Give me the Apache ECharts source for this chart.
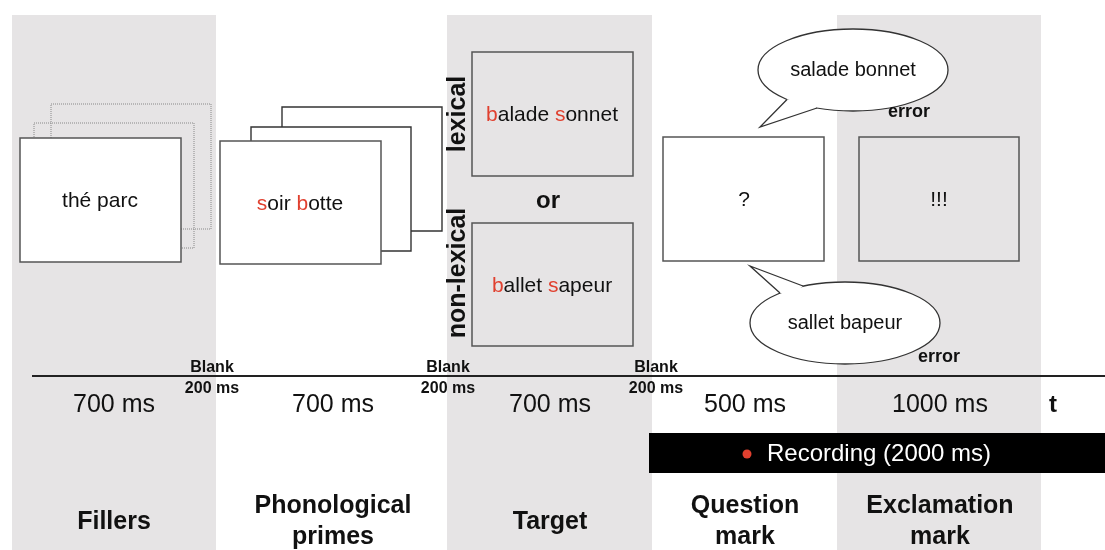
<!DOCTYPE html>
<html>
<head>
<meta charset="utf-8">
<script src="https://cdn.jsdelivr.net/npm/echarts@6/dist/echarts.min.js"></script>
<style>
  html, body { margin: 0; padding: 0; background: #fff; }
  #chart { width: 1105px; height: 550px; }
</style>
</head>
<body>
<div id="chart"></div>
<script>
// trial content
const stageNames = ['Fillers', 'Phonological\nprimes', 'Target', 'Question\nmark', 'Exclamation\nmark'];
const stageDurations = ['700 ms', '700 ms', '700 ms', '500 ms', '1000 ms'];
const blankLabels = ['Blank\n200 ms', 'Blank\n200 ms', 'Blank\n200 ms'];
const fillerWord = 'thé parc';
const primeWord = '{r|s}oir {r|b}otte';
const targetConditions = ['lexical', 'non-lexical'];
const targetWords = ['{r|b}alade {r|s}onnet', '{r|b}allet {r|s}apeur'];
const responses = ['salade bonnet', 'sallet bapeur'];
const screenSymbols = ['?', '!!!'];
const errorLabel = 'error';
const recordingLabel = 'Recording (2000 ms)';
const timeLabel = 't';

// layout (diagram units, mapped through the hidden axes)
const W = 1105, H = 550;
const bandX = [[12, 216], [447, 652], [837, 1041]];
const stageCx = [114, 333, 550, 745, 940];
const blankCx = [212, 448, 656];
const lineY = 376;

const FONT = '"Liberation Sans", Arial, Helvetica, sans-serif';
const GRAY = '#e6e4e5';
const RED = '#e0402f';
const EDGE = '#555';

const chart = echarts.init(document.getElementById('chart'));

function renderItem(params, api) {
  const P = (x, y) => api.coord([x, y]);
  const kids = [];

  const rect = (x0, y0, x1, y1, style) => {
    const a = P(x0, y0), b = P(x1, y1);
    kids.push({ type: 'rect', shape: { x: a[0], y: a[1], width: b[0] - a[0], height: b[1] - a[1] }, style });
  };
  const text = (x, y, str, size, opts) => {
    const p = P(x, y);
    opts = opts || {};
    kids.push({
      type: 'text', x: p[0], y: p[1], rotation: opts.rotation || 0,
      style: {
        text: str, fontSize: size, fontWeight: opts.bold ? 'bold' : 'normal', fontFamily: FONT,
        fill: opts.fill || '#111', align: opts.align || 'center', verticalAlign: 'middle',
        lineHeight: opts.lineHeight, rich: { r: { fill: RED, fontSize: size, fontFamily: FONT } }
      }
    });
  };
  const poly = (pts, style, closed) => {
    kids.push({ type: closed ? 'polygon' : 'polyline', shape: { points: pts.map(q => P(q[0], q[1])) }, style });
  };
  const bubble = (cx, cy, tip, b1, b2, label) => {
    const c = P(cx, cy), r = api.size([95, 41]);
    kids.push({ type: 'ellipse', shape: { cx: c[0], cy: c[1], rx: r[0], ry: r[1] }, style: { fill: '#fff', stroke: '#333', lineWidth: 1.3 } });
    const inner = [(b1[0] + b2[0]) / 2, (b1[1] + b2[1]) / 2 + (cy > tip[1] ? 6 : -6)];
    poly([tip, b1, inner, b2], { fill: '#fff' }, true);
    poly([b1, tip, b2], { fill: 'none', stroke: '#333', lineWidth: 1.3 });
    text(cx, cy, label, 20);
  };

  // shaded stages
  bandX.forEach(b => rect(b[0], 15, b[1], H, { fill: GRAY }));

  // timeline
  poly([[32, lineY], [W, lineY]], { stroke: '#222', lineWidth: 2.2 });

  // fillers: dotted stack + front screen
  rect(51, 104, 211, 229, { fill: 'none', stroke: '#888', lineWidth: 1, lineDash: [1, 1] });
  rect(34, 123, 194, 248, { fill: 'none', stroke: '#888', lineWidth: 1, lineDash: [1, 1] });
  rect(20, 138, 181, 262, { fill: '#fff', stroke: EDGE, lineWidth: 1.5 });
  text(100, 201, fillerWord, 21);

  // primes: solid stack
  rect(282, 107, 442, 231, { fill: '#fff', stroke: '#333', lineWidth: 1.4 });
  rect(251, 127, 411, 251, { fill: '#fff', stroke: '#333', lineWidth: 1.4 });
  rect(220, 141, 381, 264, { fill: '#fff', stroke: EDGE, lineWidth: 1.5 });
  text(300, 204, primeWord, 21);

  // target
  rect(472, 52, 633, 176, { fill: GRAY, stroke: EDGE, lineWidth: 1.5 });
  rect(472, 223, 633, 346, { fill: GRAY, stroke: EDGE, lineWidth: 1.5 });
  text(552, 115, targetWords[0], 21);
  text(552, 286, targetWords[1], 21);
  text(548, 201, 'or', 24, { bold: true });
  text(458, 114, targetConditions[0], 25, { bold: true, rotation: Math.PI / 2 });
  text(458, 273, targetConditions[1], 25, { bold: true, rotation: Math.PI / 2 });

  // question / exclamation screens
  rect(663, 137, 824, 261, { fill: '#fff', stroke: EDGE, lineWidth: 1.5 });
  rect(859, 137, 1019, 261, { fill: GRAY, stroke: EDGE, lineWidth: 1.5 });
  text(744, 200, screenSymbols[0], 21);
  text(939, 200, screenSymbols[1], 21);

  // spoken responses
  bubble(853, 70, [760, 127], [787, 99.5], [817, 108], responses[0]);
  bubble(845, 323, [750, 266], [780, 293], [803, 286], responses[1]);
  text(909, 112, errorLabel, 18, { bold: true });
  text(939, 357, errorLabel, 18, { bold: true });

  // blanks and durations
  blankCx.forEach((x, i) => text(x, 378, blankLabels[i], 16, { bold: true, lineHeight: 21 }));
  stageCx.forEach((x, i) => text(x, 405, stageDurations[i], 25));
  text(1053, 405, timeLabel, 24, { bold: true });

  // recording window
  rect(649, 433, W, 473, { fill: '#000' });
  const d = P(747, 454);
  kids.push({ type: 'circle', shape: { cx: d[0], cy: d[1], r: 4.5 }, style: { fill: RED } });
  text(767, 454, recordingLabel, 24, { fill: '#fff', align: 'left' });

  // stage names
  stageCx.forEach((x, i) => text(x, 522, stageNames[i], 25, { bold: true, lineHeight: 31 }));

  return { type: 'group', children: kids };
}

chart.setOption({
  animation: false,
  grid: { left: 0, right: 0, top: 0, bottom: 0 },
  xAxis: { type: 'value', min: 0, max: W, show: false },
  yAxis: { type: 'value', min: 0, max: H, inverse: true, show: false },
  series: [{ type: 'custom', silent: true, clip: false, renderItem, data: [[0, 0]] }]
});
</script>
</body>
</html>
